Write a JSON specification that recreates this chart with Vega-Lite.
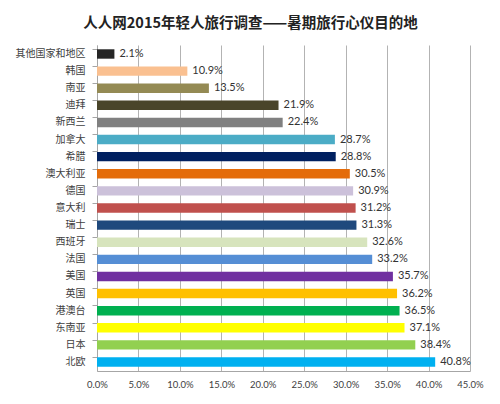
{
  "$schema": "https://vega.github.io/schema/vega-lite/v6.json",
  "width": 373,
  "height": 326,
  "autosize": {"type": "none"},
  "padding": {"left": 97, "top": 45, "right": 30, "bottom": 33},
  "background": "white",
  "title": {
    "text": "人人网2015年轻人旅行调查——暑期旅行心仪目的地",
    "font": "Noto Sans CJK SC",
    "fontSize": 14.5,
    "fontWeight": "bold",
    "color": "#222222",
    "anchor": "middle",
    "frame": "group",
    "dx": -33,
    "offset": 14
  },
  "data": {
    "values": [
      {"dest": "其他国家和地区", "pct": 0.021},
      {"dest": "韩国", "pct": 0.109},
      {"dest": "南亚", "pct": 0.135},
      {"dest": "迪拜", "pct": 0.219},
      {"dest": "新西兰", "pct": 0.224},
      {"dest": "加拿大", "pct": 0.287},
      {"dest": "希腊", "pct": 0.288},
      {"dest": "澳大利亚", "pct": 0.305},
      {"dest": "德国", "pct": 0.309},
      {"dest": "意大利", "pct": 0.312},
      {"dest": "瑞士", "pct": 0.313},
      {"dest": "西班牙", "pct": 0.326},
      {"dest": "法国", "pct": 0.332},
      {"dest": "美国", "pct": 0.357},
      {"dest": "英国", "pct": 0.362},
      {"dest": "港澳台", "pct": 0.365},
      {"dest": "东南亚", "pct": 0.371},
      {"dest": "日本", "pct": 0.384},
      {"dest": "北欧", "pct": 0.408}
    ]
  },
  "encoding": {
    "y": {
      "field": "dest",
      "type": "nominal",
      "sort": null,
      "scale": {"paddingInner": 0.45, "paddingOuter": 0.25},
      "axis": {
        "title": null,
        "domainColor": "#a6a6a6",
        "tickColor": "#a6a6a6",
        "tickSize": 5,
        "bandPosition": 0,
        "labelFont": "Noto Sans CJK SC",
        "labelFontSize": 10,
        "labelColor": "#404040",
        "labelPadding": 7,
        "grid": false
      }
    },
    "x": {
      "field": "pct",
      "type": "quantitative",
      "scale": {"domain": [0, 0.45], "nice": false},
      "axis": {
        "title": null,
        "format": ".1%",
        "values": [0, 0.05, 0.1, 0.15, 0.2, 0.25, 0.3, 0.35, 0.4, 0.45],
        "labelOverlap": false,
        "labelFlush": false,
        "grid": true,
        "gridColor": "#b3b3b3",
        "domainColor": "#a6a6a6",
        "ticks": false,
        "labelFont": "Lato",
        "labelFontSize": 9.5,
        "labelColor": "#404040",
        "labelPadding": 8
      }
    }
  },
  "layer": [
    {
      "mark": {"type": "bar"},
      "encoding": {
        "color": {
          "field": "dest",
          "type": "nominal",
          "legend": null,
          "scale": {
            "domain": ["其他国家和地区", "韩国", "南亚", "迪拜", "新西兰", "加拿大", "希腊", "澳大利亚", "德国", "意大利", "瑞士", "西班牙", "法国", "美国", "英国", "港澳台", "东南亚", "日本", "北欧"],
            "range": ["#262626", "#FAC090", "#948A54", "#4A452A", "#808080", "#4BACC6", "#002060", "#E46C0A", "#CCC1DA", "#C0504D", "#1F497D", "#D7E4BD", "#558ED5", "#7030A0", "#FFC000", "#00B050", "#FFFF00", "#92D050", "#00B0F0"]
          }
        }
      }
    },
    {
      "mark": {"type": "text", "align": "left", "dx": 5, "font": "Lato", "fontSize": 11, "color": "#333333"},
      "encoding": {
        "text": {"field": "pct", "type": "quantitative", "format": ".1%"}
      }
    }
  ],
  "config": {
    "view": {"stroke": null}
  }
}
